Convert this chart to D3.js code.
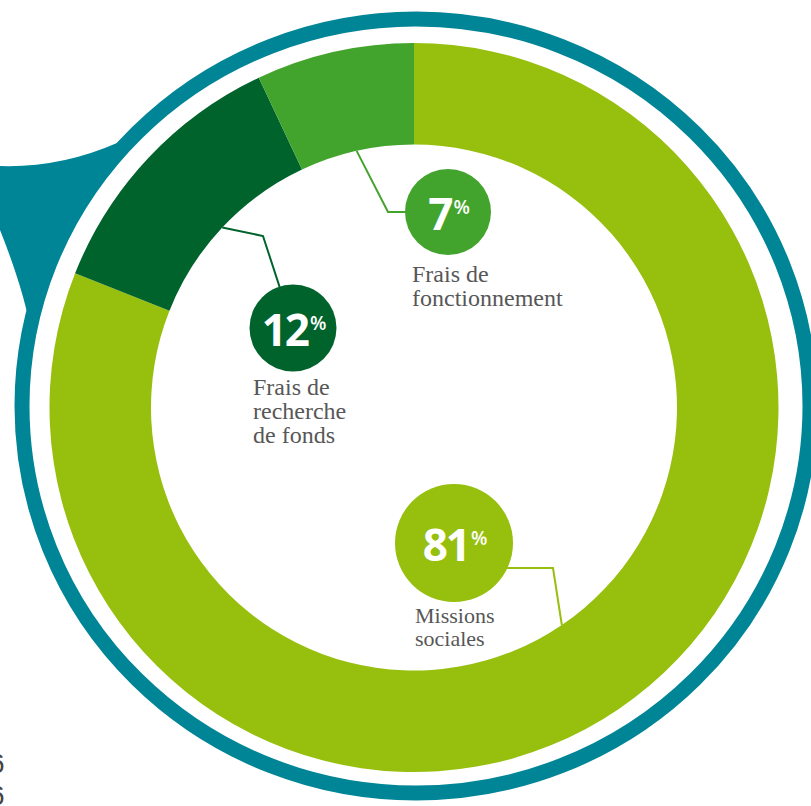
<!DOCTYPE html>
<html>
<head>
<meta charset="utf-8">
<script src="https://cdn.jsdelivr.net/npm/d3@7"></script>
<style>
  html, body { margin: 0; padding: 0; background: #fff; overflow: hidden; }
  svg { display: block; }
</style>
</head>
<body>
<svg id="chart" width="811" height="806"></svg>
<script>
'use strict';

// data (clockwise from 12 o'clock)
var categories = ['Missions sociales', 'Frais de recherche de fonds', 'Frais de fonctionnement'];
var shares = [81, 12, 7];
var labelLines = [
  ['Missions', 'sociales'],
  ['Frais de', 'recherche', 'de fonds'],
  ['Frais de', 'fonctionnement']
];
var palette = ['#97bf0d', '#00632c', '#43a42d'];

var opt = {
  cx: 414, cy: 407.5, outer: 364.5, inner: 263,
  ring: {cx: 416, cy: 406, rx: 394, ry: 387, width: 15, color: '#008596'},
  textColor: '#575757',
  callouts: [
    {c: [454, 543], r: 59, elbow: [553, 568], end: [500, 568], text: [415, 623], size: 22, leading: 23},
    {c: [293, 328], r: 43.5, elbow: [263, 236], end: [293, 328], text: [253, 395], size: 24, leading: 24},
    {c: [448, 212], r: 43, elbow: [388, 212], end: [448, 212], text: [412, 282], size: 24, leading: 24}
  ]
};

var svg = d3.select('#chart');
var ring = opt.ring;

// point on the ring's centre line at height y (left side)
function ringX(y) {
  var k = (y - ring.cy) / ring.ry;
  return ring.cx - ring.rx * Math.sqrt(Math.max(0, 1 - k * k));
}

// speech-bubble tail, drawn under the ring
var tail = d3.path();
tail.moveTo(ringX(140), 140);
tail.lineTo(117, 143);
tail.quadraticCurveTo(60, 168, 0, 166);
tail.lineTo(-2, 166);
tail.lineTo(-2, 230);
tail.lineTo(0, 230);
tail.quadraticCurveTo(18, 275, 27, 312);
d3.range(318, 139, -6).forEach(function(y) {
  tail.lineTo(ringX(y), y);
});
tail.closePath();

svg.append('path')
  .attr('d', tail.toString())
  .attr('fill', ring.color);

svg.append('ellipse')
  .attr('cx', ring.cx).attr('cy', ring.cy)
  .attr('rx', ring.rx).attr('ry', ring.ry)
  .attr('fill', 'none')
  .attr('stroke', ring.color)
  .attr('stroke-width', ring.width);

// donut
var pie = d3.pie().sort(null).value(function(d) { return d; });
var slices = pie(shares);

var arc = d3.arc().innerRadius(opt.inner).outerRadius(opt.outer);
var innerEdge = d3.arc().innerRadius(opt.inner).outerRadius(opt.inner);

var g = svg.append('g');

g.selectAll('.slice')
  .data(slices)
  .enter().append('path')
    .attr('class', 'slice')
    .attr('transform', 'translate(' + opt.cx + ',' + opt.cy + ')')
    .attr('d', arc)
    .attr('fill', function(d, i) { return palette[i]; });

// callouts
slices.forEach(function(d, i) {
  var c = opt.callouts[i];
  var p = innerEdge.centroid(d);
  var start = [opt.cx + p[0], opt.cy + p[1]];

  g.append('polyline')
    .attr('points', [start, c.elbow, c.end].map(function(q) { return q.join(','); }).join(' '))
    .attr('fill', 'none')
    .attr('stroke', palette[i])
    .attr('stroke-width', 2);

  g.append('circle')
    .attr('cx', c.c[0]).attr('cy', c.c[1])
    .attr('r', c.r)
    .attr('fill', palette[i]);

  var pct = g.append('text')
    .attr('x', c.c[0] + 1)
    .attr('y', c.c[1] + 18)
    .attr('text-anchor', 'middle')
    .attr('fill', '#fff')
    .style('font-family', '"Open Sans", sans-serif')
    .style('font-weight', 700);
  pct.append('tspan')
    .style('font-size', '44px')
    .style('letter-spacing', '-2px')
    .text(d.data);
  pct.append('tspan')
    .attr('dx', 2)
    .attr('dy', -16)
    .style('font-size', '19px')
    .style('font-weight', 600)
    .text('%');

  var lab = g.append('text')
    .attr('fill', opt.textColor)
    .attr('aria-label', categories[i])
    .style('font-family', '"Liberation Serif", serif')
    .style('font-size', c.size + 'px');
  lab.selectAll('tspan')
    .data(labelLines[i])
    .enter().append('tspan')
      .attr('x', c.text[0])
      .attr('y', function(t, j) { return c.text[1] + j * c.leading; })
      .text(function(t) { return t; });
});

// page number, cut by the left edge
svg.append('g')
  .style('font-family', '"Liberation Sans", sans-serif')
  .style('font-size', '28px')
  .attr('fill', '#444')
  .selectAll('text')
  .data(['6', '6'])
  .enter().append('text')
    .attr('x', -11)
    .attr('y', function(t, j) { return 773 + j * 32; })
    .text(function(t) { return t; });
</script>
</body>
</html>
